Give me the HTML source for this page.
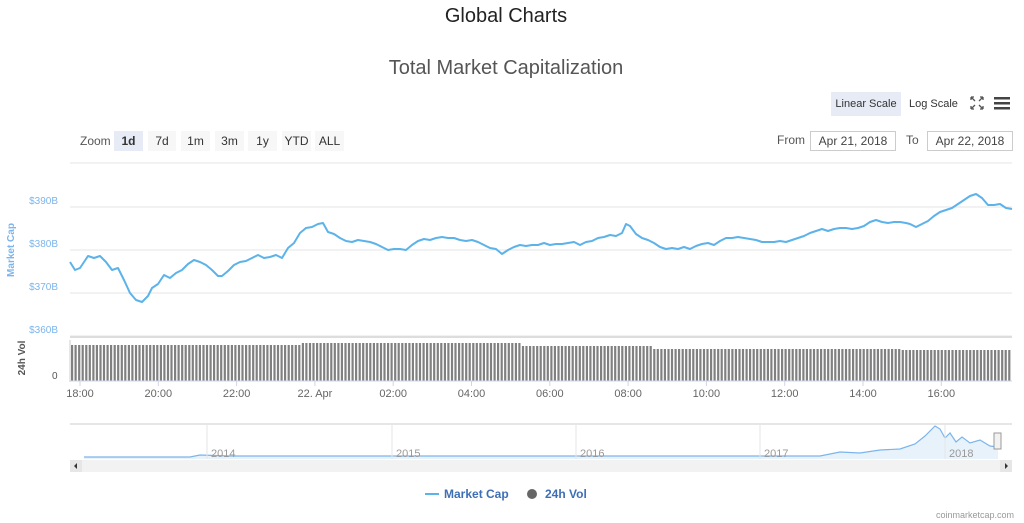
<!DOCTYPE html><html><head><meta charset="utf-8"><style>
body{margin:0;width:1024px;height:523px;background:#fff;font-family:"Liberation Sans",sans-serif;overflow:hidden;position:relative}
.a{position:absolute;white-space:nowrap}
.btn{position:absolute;top:131px;height:20px;background:#f7f7f7;font-size:12px;color:#333;text-align:center;line-height:20px}
</style></head><body>
<div class="a" style="left:0;width:1012px;text-align:center;top:5px;font-size:20px;color:#222">Global Charts</div>
<div class="a" style="left:0;width:1012px;text-align:center;top:57px;font-size:20px;color:#555">Total Market Capitalization</div>
<div class="a" style="left:831px;top:92px;width:70px;height:24px;background:#e6ebf5;font-size:11px;line-height:24px;text-align:center;color:#333">Linear Scale</div>
<div class="a" style="left:909px;top:92px;font-size:11px;line-height:24px;color:#333">Log Scale</div>
<svg class="a" style="left:970px;top:96px" width="44" height="16"><path d="M1 1l4 4M1 1h3M1 1v3M13 1l-4 4M13 1h-3M13 1v3M1 13l4-4M1 13h3M1 13v-3M13 13l-4-4M13 13h-3M13 13v-3" stroke="#555" stroke-width="1.3" fill="none"/><rect x="24" y="1" width="16" height="2.5" fill="#444"/><rect x="24" y="6" width="16" height="2.5" fill="#444"/><rect x="24" y="11" width="16" height="2.5" fill="#444"/></svg>
<div class="a" style="left:80px;top:134px;font-size:12px;color:#555">Zoom</div>
<div class="btn" style="left:114px;width:29px;background:#e6ebf5;font-weight:bold">1d</div>
<div class="btn" style="left:148px;width:28px">7d</div>
<div class="btn" style="left:181px;width:29px">1m</div>
<div class="btn" style="left:215px;width:29px">3m</div>
<div class="btn" style="left:248px;width:29px">1y</div>
<div class="btn" style="left:282px;width:29px">YTD</div>
<div class="btn" style="left:315px;width:29px">ALL</div>
<div class="a" style="left:777px;top:133px;font-size:12px;color:#555">From</div>
<div class="a" style="left:810px;top:131px;width:84px;height:18px;border:1px solid #ccc;font-size:12px;line-height:18px;text-align:center;color:#444">Apr 21, 2018</div>
<div class="a" style="left:906px;top:133px;font-size:12px;color:#555">To</div>
<div class="a" style="left:927px;top:131px;width:84px;height:18px;border:1px solid #ccc;font-size:12px;line-height:18px;text-align:center;color:#444">Apr 22, 2018</div>
<svg class="a" style="left:0;top:0" width="1024" height="523" id="s" font-family="Liberation Sans, sans-serif"></svg>
<script>
var s=document.getElementById('s'),h='';
h+='<line x1="70" x2="1012" y1="163" y2="163" stroke="#e6e6e6"/>';
[[207,'$390B'],[250,'$380B'],[293,'$370B'],[336,'$360B']].forEach(function(g){h+='<line x1="70" x2="1012" y1="'+g[0]+'" y2="'+g[0]+'" stroke="#e6e6e6"/><text x="58" y="'+(g[0]-3)+'" font-size="10" fill="#7cb5ec" text-anchor="end">'+g[1]+'</text>';});
h+='<line x1="70" x2="1012" y1="337" y2="337" stroke="#ddd" stroke-width="2"/>';
h+='<text transform="translate(14,250) rotate(-90)" font-size="10" font-weight="bold" fill="#7cb5ec" text-anchor="middle">Market Cap</text>';
h+='<text transform="translate(25,358) rotate(-90)" font-size="10" font-weight="bold" fill="#555" text-anchor="middle">24h Vol</text>';
h+='<text x="52" y="379" font-size="10" fill="#555">0</text>';
h+='<line x1="70" x2="70" y1="340" y2="382" stroke="#ccc"/>';
for(var i=0,x=71;x<1011;i++,x+=3.55){var t=x<300?345:x<520?343:x<650?346:x<900?349:350;h+='<rect x="'+x.toFixed(1)+'" y="'+t+'" width="2.2" height="'+(381-t)+'" fill="#808080"/>';}
h+='<line x1="70" x2="1012" y1="381" y2="381" stroke="#ccd6eb"/>';
var tk=['18:00','20:00','22:00','22. Apr','02:00','04:00','06:00','08:00','10:00','12:00','14:00','16:00'];
tk.forEach(function(l,i){var x=80+i*78.3;h+='<line x1="'+x+'" x2="'+x+'" y1="381" y2="386" stroke="#ccd6eb"/><text x="'+x+'" y="397" font-size="11" fill="#666" text-anchor="middle">'+l+'</text>';});
var p=[70,262,75,270,80,268,88,256,94,258,100,256,106,262,112,270,118,268,124,280,130,293,136,300,142,302,148,296,152,288,158,284,164,275,170,278,176,273,182,270,188,264,194,260,200,262,206,265,212,270,218,276,222,276,228,271,234,265,240,262,246,261,252,258,258,255,264,258,270,257,276,255,282,258,288,248,294,243,300,233,306,228,312,227,318,224,323,223,328,232,334,234,340,238,346,241,352,242,358,240,364,241,370,242,376,244,382,247,388,250,394,249,400,249,406,250,412,245,418,241,424,239,430,240,436,238,442,237,448,238,454,238,460,240,466,241,472,240,478,242,484,245,490,248,496,249,502,254,508,250,514,247,520,245,526,246,532,245,538,245,544,243,550,245,556,244,562,244,568,243,574,242,580,245,586,242,592,241,598,238,604,237,610,235,616,236,622,233,626,224,630,226,636,234,642,238,648,240,654,243,660,247,666,249,672,248,678,249,684,247,690,249,696,246,702,244,708,243,714,245,720,241,726,238,732,238,738,237,744,238,750,239,756,240,762,242,768,242,774,242,780,241,786,242,792,240,798,238,804,236,810,233,816,231,822,229,828,231,834,229,840,228,846,228,852,229,858,228,864,226,870,222,876,220,882,222,888,223,894,222,900,222,906,223,910,224,916,227,922,224,928,221,934,216,940,212,946,210,952,208,958,204,964,200,970,196,976,194,982,198,988,205,994,205,1000,204,1006,208,1012,209];
var d='M';for(i=0;i<p.length;i+=2)d+=p[i]+' '+p[i+1]+' ';
h+='<path d="'+d+'" fill="none" stroke="#5cb3ea" stroke-width="2" stroke-linejoin="round"/>';
// navigator
h+='<line x1="70" x2="1012" y1="424" y2="424" stroke="#ccc"/>';
var n='M84 457 L190 457 L200 455 L230 456 L400 456 L820 456 L840 452 L860 453 L880 450 L900 449 L915 444 L925 436 L935 426 L940 429 L945 438 L950 433 L956 442 L962 437 L970 443 L980 440 L990 446 L998 447';
h+='<path d="'+n+' L998 459 L84 459Z" fill="#e8f2fb"/><path d="'+n+'" fill="none" stroke="#7cb5ec" stroke-width="1.2"/>';
[[207,'2014'],[392,'2015'],[576,'2016'],[760,'2017'],[945,'2018']].forEach(function(g){h+='<line x1="'+g[0]+'" x2="'+g[0]+'" y1="424" y2="459" stroke="#e6e6e6"/><text x="'+(g[0]+4)+'" y="457" font-size="11" fill="#999">'+g[1]+'</text>';});
h+='<rect x="994" y="433" width="7" height="16" fill="#f2f2f2" stroke="#999"/>';
h+='<rect x="70" y="460" width="942" height="12" fill="#f2f2f2"/><rect x="70" y="460" width="12" height="12" fill="#e6e6e6"/><rect x="1000" y="460" width="12" height="12" fill="#e6e6e6"/><path d="M77 463v6l-3-3z M1005 463v6l3-3z" fill="#333"/>';
// legend
h+='<line x1="425" x2="439" y1="494" y2="494" stroke="#5cb3ea" stroke-width="2"/><text x="444" y="498" font-size="12" font-weight="bold" fill="#3e6eb5">Market Cap</text>';
h+='<circle cx="532" cy="494" r="5" fill="#666"/><text x="545" y="498" font-size="12" font-weight="bold" fill="#3e6eb5">24h Vol</text>';
h+='<text x="1014" y="518" font-size="9" fill="#999" text-anchor="end">coinmarketcap.com</text>';
s.innerHTML=h;
</script>
</body></html>
